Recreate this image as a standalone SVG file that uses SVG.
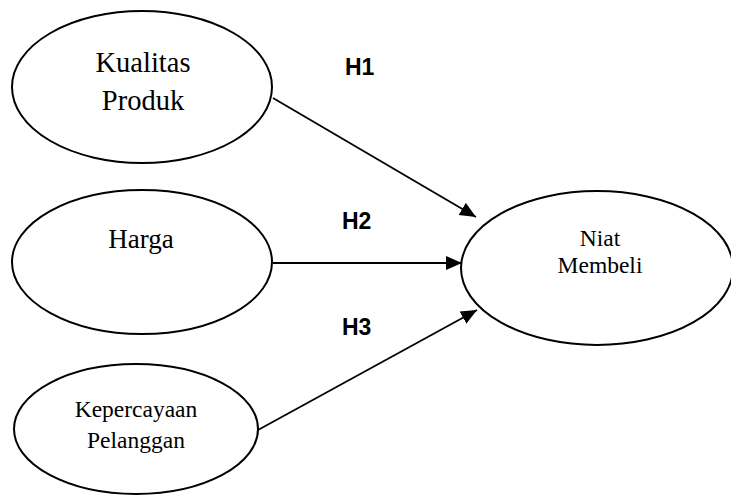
<svg xmlns="http://www.w3.org/2000/svg" width="731" height="496" viewBox="0 0 731 496">
<style>
.node ellipse{fill:#fff;stroke:#000;stroke-width:2}
.lbl{font-family:"Liberation Serif","Times New Roman",serif;fill:#000;text-anchor:middle}
.h{font-family:"Liberation Sans",Arial,sans-serif;font-weight:bold;font-size:23px;fill:#000}
.conn line{stroke:#000;stroke-width:1.8;fill:none}
</style>
<defs>
<marker id="arr" markerUnits="userSpaceOnUse" markerWidth="18" markerHeight="16" refX="16" refY="8" orient="auto">
<path d="M0,1 L16,8 L0,15 Z" fill="#000"/>
</marker>
</defs>
<rect width="731" height="496" fill="#fff"/>
<g class="conn">
<line x1="273" y1="98" x2="476" y2="217" marker-end="url(#arr)"/>
<line x1="273" y1="263" x2="462" y2="263" marker-end="url(#arr)"/>
<line x1="258" y1="430" x2="477" y2="310" marker-end="url(#arr)"/>
</g>
<g id="kualitas" class="node">
<ellipse cx="142" cy="87" rx="130" ry="76"/>
<text class="lbl" x="143" y="72" font-size="28.5">Kualitas</text>
<text class="lbl" x="143" y="110" font-size="28.5">Produk</text>
</g>
<g id="harga" class="node">
<ellipse cx="142" cy="262" rx="130" ry="72"/>
<text class="lbl" x="141" y="248" font-size="27">Harga</text>
</g>
<g id="kepercayaan" class="node">
<ellipse cx="136" cy="429" rx="122" ry="65"/>
<text class="lbl" x="136" y="417" font-size="23.5">Kepercayaan</text>
<text class="lbl" x="136" y="448" font-size="23.5">Pelanggan</text>
</g>
<g id="niat" class="node">
<ellipse cx="597" cy="268" rx="136" ry="77"/>
<text class="lbl" x="600" y="246" font-size="23.5">Niat</text>
<text class="lbl" x="600" y="273" font-size="23.5">Membeli</text>
</g>
<text class="h" x="345" y="75">H1</text>
<text class="h" x="342" y="229">H2</text>
<text class="h" x="342" y="335">H3</text>
</svg>
